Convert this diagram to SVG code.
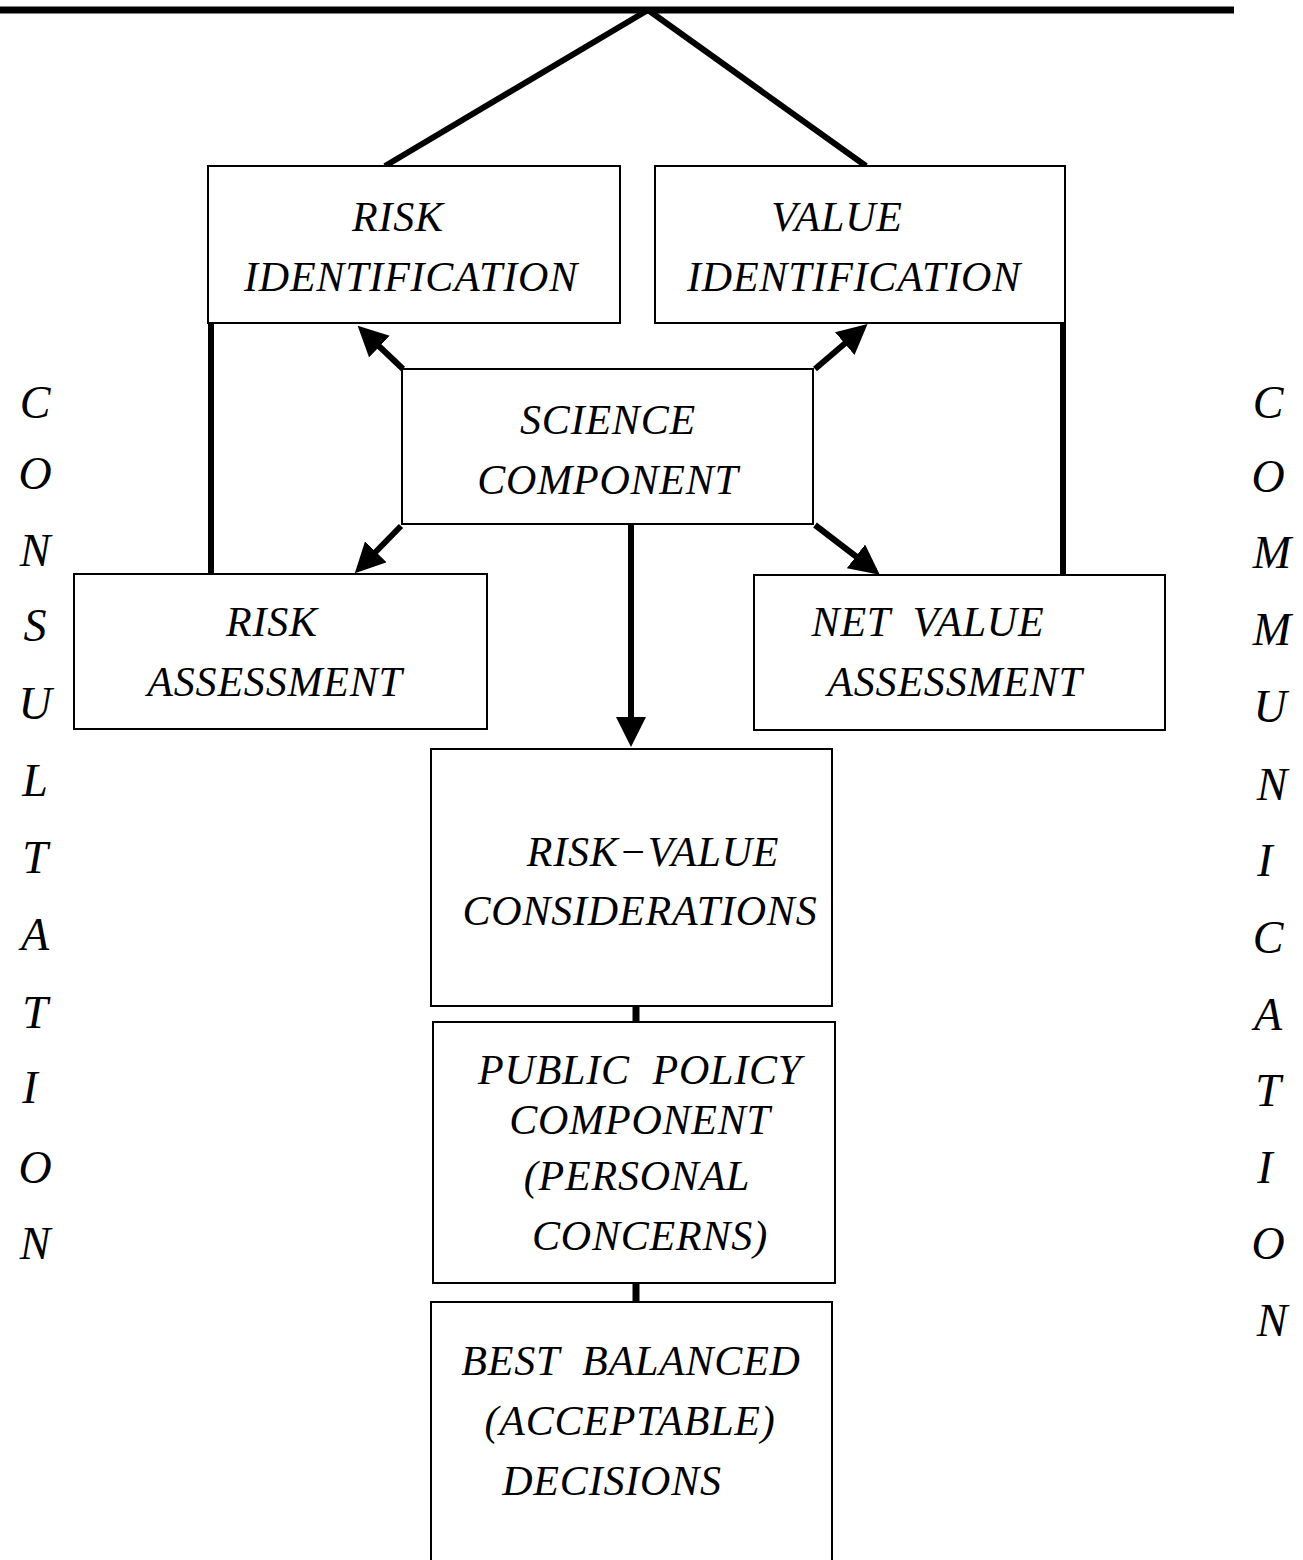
<svg xmlns="http://www.w3.org/2000/svg" width="1303" height="1560" viewBox="0 0 1303 1560">
<style>
.box{fill:#fff;stroke:#000;stroke-width:2}
.t{font-family:"Liberation Serif","Times New Roman",serif;font-style:italic;font-size:42px;letter-spacing:0.8px;fill:#000;text-anchor:middle;white-space:pre}
.s{font-family:"Liberation Serif","Times New Roman",serif;font-style:italic;font-size:46px;fill:#000;text-anchor:middle}
.c{stroke:#000;stroke-width:6;fill:none}
</style>
<defs>
<marker id="ah" markerWidth="5" markerHeight="5" refX="4" refY="2.5" orient="auto" markerUnits="strokeWidth">
<path d="M0,0 L5,2.5 L0,5 Z" fill="#000"/>
</marker>
</defs>
<rect width="1303" height="1560" fill="#fff"/>
<g id="connectors">
<line class="c" x1="0" y1="10" x2="1234" y2="10" style="stroke-width:7"/>
<line class="c" x1="648" y1="10" x2="385" y2="166"/>
<line class="c" x1="648" y1="10" x2="866" y2="166"/>
<line class="c" x1="211" y1="323" x2="211" y2="574"/>
<line class="c" x1="1063" y1="323" x2="1063" y2="575"/>
<line class="c" x1="403" y1="369" x2="362" y2="330" marker-end="url(#ah)"/>
<line class="c" x1="815" y1="369" x2="863" y2="328" marker-end="url(#ah)"/>
<line class="c" x1="401" y1="526" x2="359" y2="569" marker-end="url(#ah)"/>
<line class="c" x1="815" y1="525" x2="875" y2="571" marker-end="url(#ah)"/>
<line class="c" x1="631" y1="525" x2="631" y2="741" marker-end="url(#ah)"/>
<line class="c" x1="636" y1="1006" x2="636" y2="1022" style="stroke-width:7"/>
<line class="c" x1="636" y1="1283" x2="636" y2="1302" style="stroke-width:7"/>
</g>
<g id="risk-identification">
<rect class="box" x="208" y="166" width="412" height="157"/>
<text class="t" x="398" y="231">RISK</text>
<text class="t" x="411" y="291">IDENTIFICATION</text>
</g>
<g id="value-identification">
<rect class="box" x="655" y="166" width="410" height="157"/>
<text class="t" x="837" y="231">VALUE</text>
<text class="t" x="854" y="291">IDENTIFICATION</text>
</g>
<g id="science-component">
<rect class="box" x="402" y="369" width="411" height="155"/>
<text class="t" x="608" y="434">SCIENCE</text>
<text class="t" x="608" y="494">COMPONENT</text>
</g>
<g id="risk-assessment">
<rect class="box" x="74" y="574" width="413" height="155"/>
<text class="t" x="272" y="636">RISK</text>
<text class="t" x="275" y="696">ASSESSMENT</text>
</g>
<g id="net-value-assessment">
<rect class="box" x="754" y="575" width="411" height="155"/>
<text class="t" x="928" y="636">NET  VALUE</text>
<text class="t" x="955" y="696">ASSESSMENT</text>
</g>
<g id="risk-value-considerations">
<rect class="box" x="431" y="749" width="401" height="257"/>
<text class="t" x="653" y="866">RISK−VALUE</text>
<text class="t" x="640" y="925">CONSIDERATIONS</text>
</g>
<g id="public-policy-component">
<rect class="box" x="433" y="1022" width="402" height="261"/>
<text class="t" x="640" y="1084">PUBLIC  POLICY</text>
<text class="t" x="640" y="1134">COMPONENT</text>
<text class="t" x="637" y="1190">(PERSONAL</text>
<text class="t" x="650" y="1250">CONCERNS)</text>
</g>
<g id="best-balanced-decisions">
<rect class="box" x="431" y="1302" width="401" height="270"/>
<text class="t" x="631" y="1375">BEST  BALANCED</text>
<text class="t" x="630" y="1435">(ACCEPTABLE)</text>
<text class="t" x="612" y="1495">DECISIONS</text>
</g>
<g id="consultation">
<text class="s" x="35" y="418">C</text>
<text class="s" x="35" y="489">O</text>
<text class="s" x="35" y="566">N</text>
<text class="s" x="35" y="641">S</text>
<text class="s" x="35" y="719">U</text>
<text class="s" x="35" y="796">L</text>
<text class="s" x="35" y="873">T</text>
<text class="s" x="35" y="950">A</text>
<text class="s" x="35" y="1028">T</text>
<text class="s" x="30" y="1103">I</text>
<text class="s" x="35" y="1183">O</text>
<text class="s" x="35" y="1259">N</text>
</g>
<g id="communication">
<text class="s" x="1268" y="418">C</text>
<text class="s" x="1268" y="492">O</text>
<text class="s" x="1272" y="568">M</text>
<text class="s" x="1272" y="645">M</text>
<text class="s" x="1270" y="722">U</text>
<text class="s" x="1272" y="800">N</text>
<text class="s" x="1265" y="876">I</text>
<text class="s" x="1268" y="953">C</text>
<text class="s" x="1268" y="1030">A</text>
<text class="s" x="1268" y="1106">T</text>
<text class="s" x="1265" y="1183">I</text>
<text class="s" x="1268" y="1259">O</text>
<text class="s" x="1272" y="1336">N</text>
</g>
</svg>
